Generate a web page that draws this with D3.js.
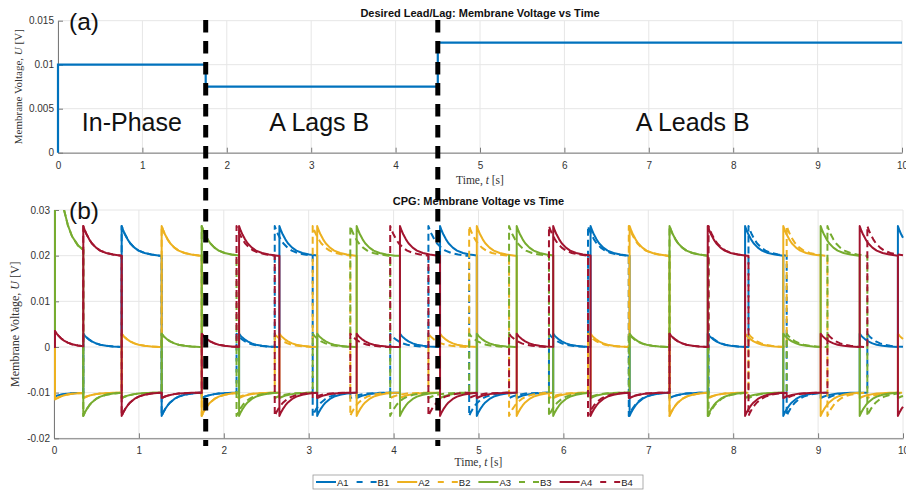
<!DOCTYPE html>
<html><head><meta charset="utf-8">
<script src="https://cdn.jsdelivr.net/npm/d3@7"></script>
<style>body{margin:0;background:#fff} svg{display:block}</style>
</head><body><svg id="c" width="906" height="494"></svg>
<script>
// ---------------- data ----------------
const xTicks = [0,1,2,3,4,5,6,7,8,9,10];
const topYTicks = [0, 0.005, 0.01, 0.015];
const botYTicks = [-0.02, -0.01, 0, 0.01, 0.02, 0.03];
const topYTickLabels = ["0","0.005","0.01","0.015"];
const botYTickLabels = ["-0.02","-0.01","0","0.01","0.02","0.03"];

// desired lead/lag step signal (panel a)
const desiredT = [0, 0, 1.75, 1.75, 4.5, 4.5, 10];
const desiredU = [0, 0.01, 0.01, 0.0075, 0.0075, 0.0125, 0.0125];
const phaseBoundaries = [1.75, 4.5];
const phaseLabels = ["In-Phase", "A Lags B", "A Leads B"];

// CPG neurons: times (s) at which each neuron jumps to its high state
const onsetA1 = [0.797, 2.655, 4.547, 6.32, 8.14, 9.94];
const onsetA2 = [1.268, 3.10, 4.98, 6.78, 8.59];
const onsetA3 = [0.012, 1.74, 3.565, 5.45, 7.25, 9.03];
const onsetA4 = [0.345, 2.18, 4.075, 5.88, 7.70, 9.49];
const onsetB1 = [0.797, 2.60, 4.41, 6.29, 8.18, 10.05];
const onsetB2 = [1.268, 3.047, 4.89, 6.77, 8.63];
const onsetB3 = [0.012, 1.74, 3.49, 5.36, 7.25, 9.11];
const onsetB4 = [0.345, 2.15, 3.96, 5.83, 7.71, 9.58];

// voltage levels: [value right after switching, settled value]
const levelHigh = [0.0265, 0.020];
const levelLow1 = [-0.0151, -0.010];
const levelLow2 = [-0.0112, -0.010];
const levelMid  = [0.0029, 0.0];
// start-up values, ring order A3, A4, A1, A2
const initialStart = [0.045, 0.0035, -0.0108, -0.0115];
// relaxation profile read from a spike: time after switching (s), remaining fraction of overshoot
const decayDt   = [0, 0.02, 0.04, 0.07, 0.10, 0.15, 0.20, 0.27, 0.35, 0.45];
const decayFrac = [1, 0.84, 0.71, 0.55, 0.42, 0.27, 0.17, 0.09, 0.04, 0.0];

const seriesNames  = ["A1","B1","A2","B2","A3","B3","A4","B4"];
const seriesColors = ["#0072BD","#0072BD","#EDB120","#EDB120","#77AC30","#77AC30","#A2142F","#A2142F"];
const seriesDashed = [false,true,false,true,false,true,false,true];

// ---------------- build waveforms ----------------
const ringA = [onsetA3, onsetA4, onsetA1, onsetA2];
const ringB = [onsetB3, onsetB4, onsetB1, onsetB2];
function profileAt(dt){
  if (dt >= decayDt[decayDt.length-1]) return 0;
  for (let j=1;j<decayDt.length;j++){
    if (dt <= decayDt[j]){
      const f = (dt-decayDt[j-1])/(decayDt[j]-decayDt[j-1]);
      return decayFrac[j-1] + f*(decayFrac[j]-decayFrac[j-1]);
    }
  }
  return 0;
}
function buildWave(ring, idx){
  const events = [];
  ring.forEach((arr,k)=>arr.forEach(t=>events.push({t,k})));
  events.sort((a,b)=>a.t-b.t);
  const pts = [[0, 0]];
  events.forEach((e,i)=>{
    if (e.t >= 10) return;
    const tEnd = Math.min(i+1<events.length ? events[i+1].t : 10, 10);
    const rel = (e.k - idx + 4) % 4;
    const lv = [levelHigh, levelLow1, levelLow2, levelMid][rel];
    const start = (i===0) ? initialStart[idx] : lv[0];
    const val = dt => lv[1] + (start-lv[1])*profileAt(dt);
    if (i===0) pts.push([e.t, 0]);
    decayDt.forEach(dt=>{ if (e.t+dt < tEnd) pts.push([e.t+dt, val(dt)]); });
    pts.push([tEnd, val(tEnd-e.t)]);
  });
  return pts;
}
const ringIndex = {"1":2,"2":3,"3":0,"4":1};
const seriesData = seriesNames.map(n=>{
  const ring = n[0]==="A" ? ringA : ringB;
  return buildWave(ring, ringIndex[n[1]]);
});

// ---------------- drawing ----------------
const svg = d3.select("#c");
const SANS = "'Liberation Sans', Arial, sans-serif";
const SERIF = "'Liberation Serif', 'Times New Roman', serif";
const axisCol = "#7a7a7a", textCol = "#333", gridCol = "#e6e6e6";

const topP = {l:58, r:902, t:20.7, b:152.7};
const botP = {l:54, r:903, t:210, b:438.3};
const xT = d3.scaleLinear().domain([0,10]).range([topP.l, topP.r]);
const yT = d3.scaleLinear().domain([0,0.015]).range([topP.b, topP.t]);
const xB = d3.scaleLinear().domain([0,10]).range([botP.l, botP.r]);
const yB = d3.scaleLinear().domain([-0.02,0.03]).range([botP.b, botP.t]);

function panel(P, xs, ys, yTicks, yLabels, title, titleBase, xlabBase, ylabX, ylabSize){
  const g = svg.append("g");
  g.selectAll(".gx").data(xTicks).join("line")
    .attr("x1",d=>xs(d)).attr("x2",d=>xs(d)).attr("y1",P.t).attr("y2",P.b)
    .attr("stroke",gridCol).attr("stroke-width",1);
  g.selectAll(".gy").data(yTicks).join("line")
    .attr("x1",P.l).attr("x2",P.r).attr("y1",d=>ys(d)).attr("y2",d=>ys(d))
    .attr("stroke",gridCol).attr("stroke-width",1);
  const ax = g.append("g").attr("transform",`translate(0,${P.b})`)
    .call(d3.axisBottom(xs).tickValues(xTicks).tickFormat(d3.format("d")).tickSizeInner(-5).tickSizeOuter(0).tickPadding(9));
  const ay = g.append("g").attr("transform",`translate(${P.l},0)`)
    .call(d3.axisLeft(ys).tickValues(yTicks).tickFormat((d,i)=>yLabels[i]).tickSizeInner(-5).tickSizeOuter(0).tickPadding(4));
  [ax,ay].forEach(a=>{
    a.select(".domain").attr("stroke",axisCol);
    a.selectAll(".tick line").attr("stroke",axisCol);
    a.selectAll(".tick text").attr("fill",textCol).style("font-family",SANS).style("font-size","10px");
  });
  g.append("text").attr("x",(P.l+P.r)/2).attr("y",titleBase).attr("text-anchor","middle")
    .style("font-family",SANS).style("font-size","11px").style("font-weight","bold").attr("fill","#111").text(title);
  const xl = g.append("text").attr("x",(P.l+P.r)/2).attr("y",xlabBase).attr("text-anchor","middle")
    .style("font-family",SERIF).style("font-size","11.5px").attr("fill",textCol);
  xl.append("tspan").text("Time, ");
  xl.append("tspan").style("font-style","italic").text("t");
  xl.append("tspan").text(" [s]");
  const yl = g.append("text").attr("transform",`translate(${ylabX},${(P.t+P.b)/2}) rotate(-90)`).attr("text-anchor","middle")
    .style("font-family",SERIF).style("font-size",ylabSize+"px").attr("fill",textCol);
  yl.append("tspan").text("Membrane Voltage, ");
  yl.append("tspan").style("font-style","italic").text("U");
  yl.append("tspan").text(" [V]");
  return g;
}

const gT = panel(topP, xT, yT, topYTicks, topYTickLabels, "Desired Lead/Lag: Membrane Voltage vs Time", 17, 184, 22, 11);
const gB = panel(botP, xB, yB, botYTicks, botYTickLabels, "CPG: Membrane Voltage vs Time", 205, 466, 19, 12);

// top line
const desiredPts = desiredT.map((t,i)=>[t, desiredU[i]]);
gT.append("path").datum(desiredPts)
  .attr("d", d3.line().x(d=>xT(d[0])).y(d=>yT(d[1])))
  .attr("fill","none").attr("stroke","#0072BD").attr("stroke-width",2.2);

// bottom series
svg.append("clipPath").attr("id","clipB").append("rect")
  .attr("x",botP.l-2).attr("y",botP.t).attr("width",botP.r-botP.l+4).attr("height",botP.b-botP.t);
const lineB = d3.line().x(d=>xB(d[0])).y(d=>yB(d[1]));
const gS = svg.append("g").attr("clip-path","url(#clipB)");
seriesData.forEach((pts,i)=>{
  gS.append("path").datum(pts).attr("d",lineB)
    .attr("fill","none").attr("stroke",seriesColors[i]).attr("stroke-width",2)
    .attr("stroke-linejoin","round")
    .attr("stroke-dasharray", seriesDashed[i] ? "7,4" : null);
});

// panel text labels
const big = (x,y,t,anchor,size)=>svg.append("text").attr("x",x).attr("y",y).attr("text-anchor",anchor||"start")
  .style("font-family",SANS).style("font-size",(size||25)+"px").attr("fill","#111").text(t);
big(69, 30, "(a)", "start", 24.5);
big(69, 219, "(b)", "start", 24.5);
const labelT = [(0+phaseBoundaries[0])/2, (phaseBoundaries[0]+phaseBoundaries[1])/2 - 0.03, 7.52];
phaseLabels.forEach((t,i)=>big(xT(labelT[i]), 131, t, "middle", 25));

// phase boundary dashed lines
phaseBoundaries.forEach(b=>{
  svg.append("line").attr("x1",xT(b)).attr("x2",xT(b)).attr("y1",20).attr("y2",446)
    .attr("stroke","#000").attr("stroke-width",5).attr("stroke-dasharray","12.5,8.5");
});

// legend
const lg = svg.append("g");
lg.append("rect").attr("x",313).attr("y",475).attr("width",330).attr("height",14)
  .attr("fill","#fff").attr("stroke","#9a9a9a").attr("stroke-width",0.8);
seriesNames.forEach((n,i)=>{
  const x0 = 316 + i*40.6;
  lg.append("line").attr("x1",x0).attr("x2",x0+20).attr("y1",482).attr("y2",482)
    .attr("stroke",seriesColors[i]).attr("stroke-width",2)
    .attr("stroke-dasharray", seriesDashed[i] ? "6,8" : null);
  lg.append("text").attr("x",x0+21).attr("y",485.5).style("font-family",SANS).style("font-size","9.5px")
    .attr("fill","#222").text(n);
});
</script></body></html>
